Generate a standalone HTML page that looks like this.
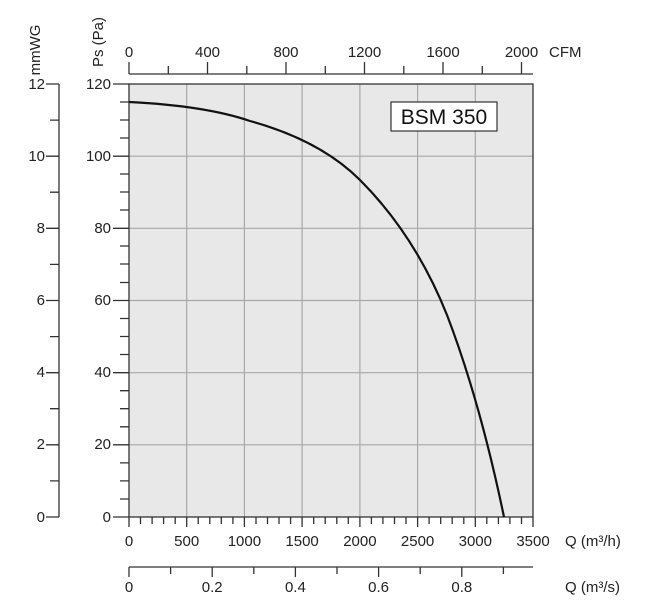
<!DOCTYPE html>
<html><head><meta charset="utf-8"><style>
body{margin:0;background:#fff;}
svg{display:block;font-family:"Liberation Sans",Arial,sans-serif;}
</style></head><body>
<svg width="647" height="613" viewBox="0 0 647 613" xmlns="http://www.w3.org/2000/svg">
<rect x="129" y="84" width="404" height="433" fill="#e8e8e8"/>
<g stroke="#a8a8a8" stroke-width="1.2">
<line x1="186.7" y1="84" x2="186.7" y2="517"/>
<line x1="244.4" y1="84" x2="244.4" y2="517"/>
<line x1="302.1" y1="84" x2="302.1" y2="517"/>
<line x1="359.9" y1="84" x2="359.9" y2="517"/>
<line x1="417.6" y1="84" x2="417.6" y2="517"/>
<line x1="475.3" y1="84" x2="475.3" y2="517"/>
<line x1="129" y1="156.2" x2="533" y2="156.2"/>
<line x1="129" y1="228.3" x2="533" y2="228.3"/>
<line x1="129" y1="300.5" x2="533" y2="300.5"/>
<line x1="129" y1="372.7" x2="533" y2="372.7"/>
<line x1="129" y1="444.8" x2="533" y2="444.8"/>
</g>
<g stroke="#333" stroke-width="1.3" fill="none">
<rect x="129" y="84" width="404" height="433"/>
<path d="M113 84H129M120 102H129M120 120H129M120 138H129M113 156.2H129M120 174H129M120 192H129M120 210H129M113 228.3H129M120 246H129M120 264H129M120 282.5H129M113 300.5H129M120 318.5H129M120 336.5H129M120 354.5H129M113 372.7H129M120 390.7H129M120 408.7H129M120 426.8H129M113 444.8H129M120 462.9H129M120 480.9H129M120 499H129M113 517H129"/>
<path d="M59 84V517M46 84H59M50 120.1H59M46 156.2H59M50 192.2H59M46 228.3H59M50 264.4H59M46 300.5H59M50 336.6H59M46 372.7H59M50 408.7H59M46 444.8H59M50 480.9H59M46 517H59"/>
<path d="M129 517V527M140.5 517V524M152.1 517V524M163.6 517V524M175.2 517V524M186.7 517V527M198.2 517V524M209.8 517V524M221.3 517V524M232.9 517V524M244.4 517V527M256 517V524M267.5 517V524M279 517V524M290.6 517V524M302.1 517V527M313.7 517V524M325.2 517V524M336.8 517V524M348.3 517V524M359.9 517V527M371.4 517V524M382.9 517V524M394.5 517V524M406 517V524M417.6 517V527M429.1 517V524M440.7 517V524M452.2 517V524M463.8 517V524M475.3 517V527M486.8 517V524M498.4 517V524M509.9 517V524M521.5 517V524M533 517V527"/>
<path d="M129 74H533M129 62V74M168.3 66V74M207.5 62V74M246.8 66V74M286 62V74M325.3 66V74M364.5 62V74M403.8 66V74M443 62V74M482.3 66V74M521.5 62V74"/>
<path d="M129 567H533M129 567V577M170.6 567V574M212.2 567V577M253.8 567V574M295.4 567V577M337 567V574M378.6 567V577M420.2 567V574M461.8 567V577M503.4 567V574"/>
</g>
<path d="M129 102 C170 104 215 109 250 121 C290 132 330 150 360 180 C395 215 425 260 447 315 C470 375 488 440 504 517" fill="none" stroke="#111" stroke-width="2.2"/>
<rect x="391" y="102" width="106" height="29" fill="#fff" stroke="#333" stroke-width="1.2"/>
<text x="444" y="124" font-size="21" text-anchor="middle" fill="#111">BSM 350</text>
<g font-size="15" fill="#222">
<g text-anchor="end">
<text x="111" y="89">120</text><text x="111" y="161">100</text><text x="111" y="233">80</text><text x="111" y="305">60</text><text x="111" y="377">40</text><text x="111" y="449">20</text><text x="111" y="522">0</text>
<text x="45" y="89">12</text><text x="45" y="161">10</text><text x="45" y="233">8</text><text x="45" y="305">6</text><text x="45" y="377">4</text><text x="45" y="449">2</text><text x="45" y="522">0</text>
</g>
<g text-anchor="middle">
<text x="129" y="546">0</text><text x="186.7" y="546">500</text><text x="244.4" y="546">1000</text><text x="302.1" y="546">1500</text><text x="359.9" y="546">2000</text><text x="417.6" y="546">2500</text><text x="475.3" y="546">3000</text><text x="533" y="546">3500</text>
<text x="129" y="57">0</text><text x="207.5" y="57">400</text><text x="286" y="57">800</text><text x="364.5" y="57">1200</text><text x="443" y="57">1600</text><text x="521.5" y="57">2000</text>
<text x="129" y="592">0</text><text x="212.2" y="592">0.2</text><text x="295.4" y="592">0.4</text><text x="378.6" y="592">0.6</text><text x="461.8" y="592">0.8</text>
</g>
<text x="549" y="57">CFM</text>
<text x="565" y="546">Q (m³/h)</text>
<text x="565" y="592">Q (m³/s)</text>
<text transform="translate(40 50) rotate(-90)" text-anchor="middle">mmWG</text>
<text transform="translate(103 42) rotate(-90)" text-anchor="middle">Ps (Pa)</text>
</g>
</svg>
</body></html>
